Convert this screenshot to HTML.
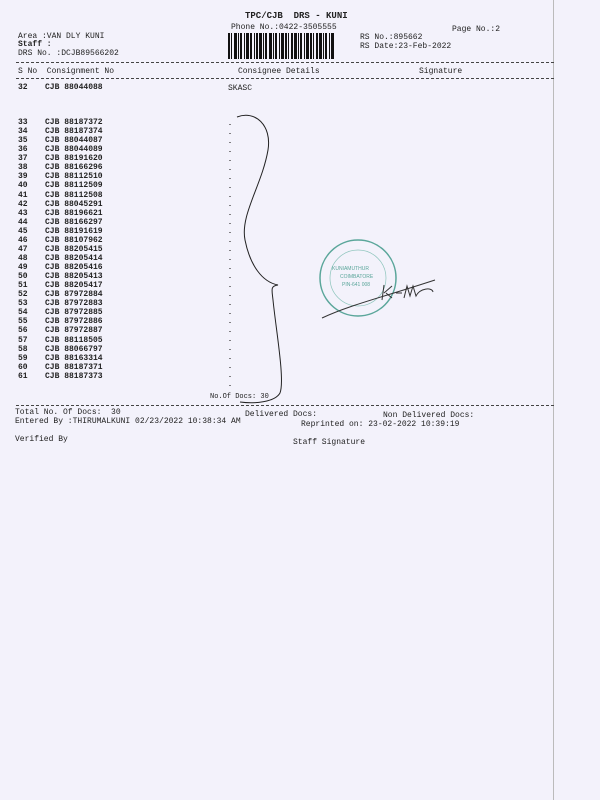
<!DOCTYPE html>
<html><head><meta charset="utf-8"><style>
body{margin:0;width:600px;height:800px;background:#f3f2fb;position:relative;overflow:hidden;font-family:"Liberation Mono",monospace;color:#222;}
.t{position:absolute;font-size:8px;white-space:pre;line-height:9px;}
.b{font-weight:bold;}
.dash{position:absolute;border-top:1px dashed #444;height:0;}
</style></head><body>
<div style="position:absolute;left:553px;top:0;width:1px;height:800px;background:#bbb"></div>
<div class="t b" style="left:245px;top:12px;font-size:9px">TPC/CJB  DRS - KUNI</div>
<div class="t" style="left:231px;top:23px">Phone No.:0422-3505555</div>
<div class="t" style="left:452px;top:25px">Page No.:2</div>
<div class="t" style="left:18px;top:32px">Area :VAN DLY KUNI</div>
<div class="t b" style="left:18px;top:40px">Staff :</div>
<div class="t" style="left:18px;top:49px">DRS No. :DCJB89566202</div>
<div class="t" style="left:360px;top:33px">RS No.:895662</div>
<div class="t" style="left:360px;top:42px">RS Date:23-Feb-2022</div>
<svg style="position:absolute;left:228px;top:33px" width="106" height="26">
<g fill="#111">
<rect x="0" width="2" height="26"/><rect x="3" width="1" height="26"/><rect x="6" width="3" height="26"/><rect x="10" width="1" height="26"/><rect x="12" width="2" height="26"/><rect x="16" width="1" height="26"/><rect x="18" width="3" height="26"/><rect x="22" width="2" height="26"/><rect x="26" width="1" height="26"/><rect x="28" width="2" height="26"/><rect x="31" width="3" height="26"/><rect x="35" width="1" height="26"/><rect x="37" width="2" height="26"/><rect x="41" width="3" height="26"/><rect x="45" width="1" height="26"/><rect x="47" width="2" height="26"/><rect x="51" width="1" height="26"/><rect x="53" width="3" height="26"/><rect x="57" width="2" height="26"/><rect x="60" width="1" height="26"/><rect x="63" width="2" height="26"/><rect x="66" width="3" height="26"/><rect x="70" width="1" height="26"/><rect x="72" width="2" height="26"/><rect x="76" width="1" height="26"/><rect x="78" width="3" height="26"/><rect x="82" width="2" height="26"/><rect x="85" width="1" height="26"/><rect x="88" width="2" height="26"/><rect x="91" width="3" height="26"/><rect x="95" width="1" height="26"/><rect x="97" width="2" height="26"/><rect x="101" width="1" height="26"/><rect x="103" width="3" height="26"/>
</g></svg>
<div class="dash" style="left:16px;top:62px;width:538px"></div>
<div class="t" style="left:18px;top:67px">S No  Consignment No</div>
<div class="t" style="left:238px;top:67px">Consignee Details</div>
<div class="t" style="left:419px;top:67px">Signature</div>
<div class="dash" style="left:16px;top:78px;width:538px"></div>
<div class="t b" style="left:18px;top:83px">32</div><div class="t b" style="left:45px;top:83px">CJB 88044088</div>
<div class="t" style="left:228px;top:84px">SKASC</div>
<div id="rows"></div>
<div class="t b" style="left:18px;top:118px;line-height:9.07px">33
34
35
36
37
38
39
40
41
42
43
44
45
46
47
48
49
50
51
52
53
54
55
56
57
58
59
60
61</div>
<div class="t b" style="left:45px;top:118px;line-height:9.07px">CJB 88187372
CJB 88187374
CJB 88044087
CJB 88044089
CJB 88191620
CJB 88166296
CJB 88112510
CJB 88112509
CJB 88112508
CJB 88045291
CJB 88196621
CJB 88166297
CJB 88191619
CJB 88107962
CJB 88205415
CJB 88205414
CJB 88205416
CJB 88205413
CJB 88205417
CJB 87972884
CJB 87972883
CJB 87972885
CJB 87972886
CJB 87972887
CJB 88118505
CJB 88066797
CJB 88163314
CJB 88187371
CJB 88187373</div>
<svg style="position:absolute;left:0;top:0" width="600" height="800">
<line x1="230" y1="124" x2="230" y2="390" stroke="#333" stroke-width="1.2" stroke-dasharray="1 8"/>
<path d="M237,117 C255,110 272,125 268,150 C262,185 240,215 245,240 C250,265 262,282 278,285 C270,286 272,290 273,300 C276,330 285,380 280,393 C275,402 255,404 240,402" fill="none" stroke="#222" stroke-width="1"/>
<circle cx="358" cy="278" r="38" fill="none" stroke="#5aa69a" stroke-width="1.5"/>
<circle cx="358" cy="278" r="28" fill="none" stroke="#8cc4bb" stroke-width="0.7"/>
<text x="332" y="270" font-size="5" fill="#5aa69a" font-family="Liberation Sans">KUNIAMUTHUR</text>
<text x="340" y="278" font-size="5" fill="#5aa69a" font-family="Liberation Sans">COIMBATORE</text>
<text x="342" y="286" font-size="5" fill="#5aa69a" font-family="Liberation Sans">PIN-641 008</text>
<path d="M322,318 C350,305 380,298 435,280" fill="none" stroke="#333" stroke-width="1"/>
<path d="M382,300 L384,285 M384,293 L392,286 M386,293 L392,298 M396,293 L402,293 M404,298 L407,286 L410,296 L413,286 L416,296 C420,288 432,287 433,292" fill="none" stroke="#333" stroke-width="1"/>
</svg>
<div class="t" style="left:210px;top:393px;font-size:7px">No.Of Docs: 30</div>
<div class="dash" style="left:16px;top:405px;width:538px"></div>
<div class="t" style="left:15px;top:408px">Total No. Of Docs:  30</div>
<div class="t" style="left:245px;top:410px">Delivered Docs:</div>
<div class="t" style="left:383px;top:411px">Non Delivered Docs:</div>
<div class="t" style="left:15px;top:417px">Entered By :THIRUMALKUNI 02/23/2022 10:38:34 AM</div>
<div class="t" style="left:301px;top:420px">Reprinted on: 23-02-2022 10:39:19</div>
<div class="t" style="left:15px;top:435px">Verified By</div>
<div class="t" style="left:293px;top:438px">Staff Signature</div>
</body></html>
